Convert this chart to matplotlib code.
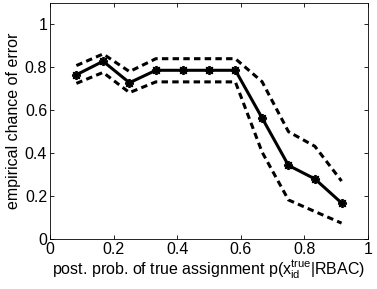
import matplotlib
matplotlib.use('Agg')
import matplotlib.pyplot as plt

plt.rcParams['font.family'] = ['Liberation Sans', 'DejaVu Sans']
plt.rcParams['mathtext.fontset'] = 'custom'
plt.rcParams['mathtext.rm'] = 'Liberation Sans'
plt.rcParams['mathtext.it'] = 'Liberation Sans'

# posterior probability bins
x = [0.083, 0.167, 0.25, 0.333, 0.417, 0.5, 0.583, 0.667, 0.75, 0.833, 0.917]
# empirical chance of error and its confidence bounds
err = [0.765, 0.828, 0.728, 0.786, 0.786, 0.786, 0.786, 0.564, 0.343, 0.280, 0.168]
upper = [0.808, 0.862, 0.780, 0.840, 0.840, 0.840, 0.840, 0.733, 0.500, 0.432, 0.270]
lower = [0.725, 0.776, 0.682, 0.732, 0.732, 0.732, 0.732, 0.405, 0.182, 0.128, 0.074]

fig = plt.figure(figsize=(3.77, 2.89), dpi=100)
ax = fig.add_axes([0.1326, 0.173, 0.8434, 0.817])

ax.plot(x, upper, color='black', lw=2.2, ls=(0, (2.1, 1.4)))
ax.plot(x, lower, color='black', lw=2.2, ls=(0, (2.1, 1.4)))
ax.plot(x, err, color='black', lw=2.2, marker=(8, 2, 0), ms=6.5, mew=1.3)

ax.set_xlim(0, 1)
ax.set_ylim(0, 1.1)
ax.set_xticks([0, 0.2, 0.4, 0.6, 0.8, 1])
ax.set_xticklabels(['0', '0.2', '0.4', '0.6', '0.8', '1'])
ax.set_yticks([0, 0.2, 0.4, 0.6, 0.8, 1])
ax.set_yticklabels(['0', '0.2', '0.4', '0.6', '0.8', '1'])
ax.tick_params(direction='in', top=True, right=True, labelsize=11.5, length=3, width=0.6, pad=2)
for s in ax.spines.values():
    s.set_linewidth(0.6)

ax.set_xlabel(r'post. prob. of true assignment p($\mathrm{x_{id}^{true}}$|RBAC)', fontsize=11.5, labelpad=1)
ax.set_ylabel('empirical chance of error', fontsize=11.5, labelpad=3)

fig.savefig('out.png', dpi=100)
